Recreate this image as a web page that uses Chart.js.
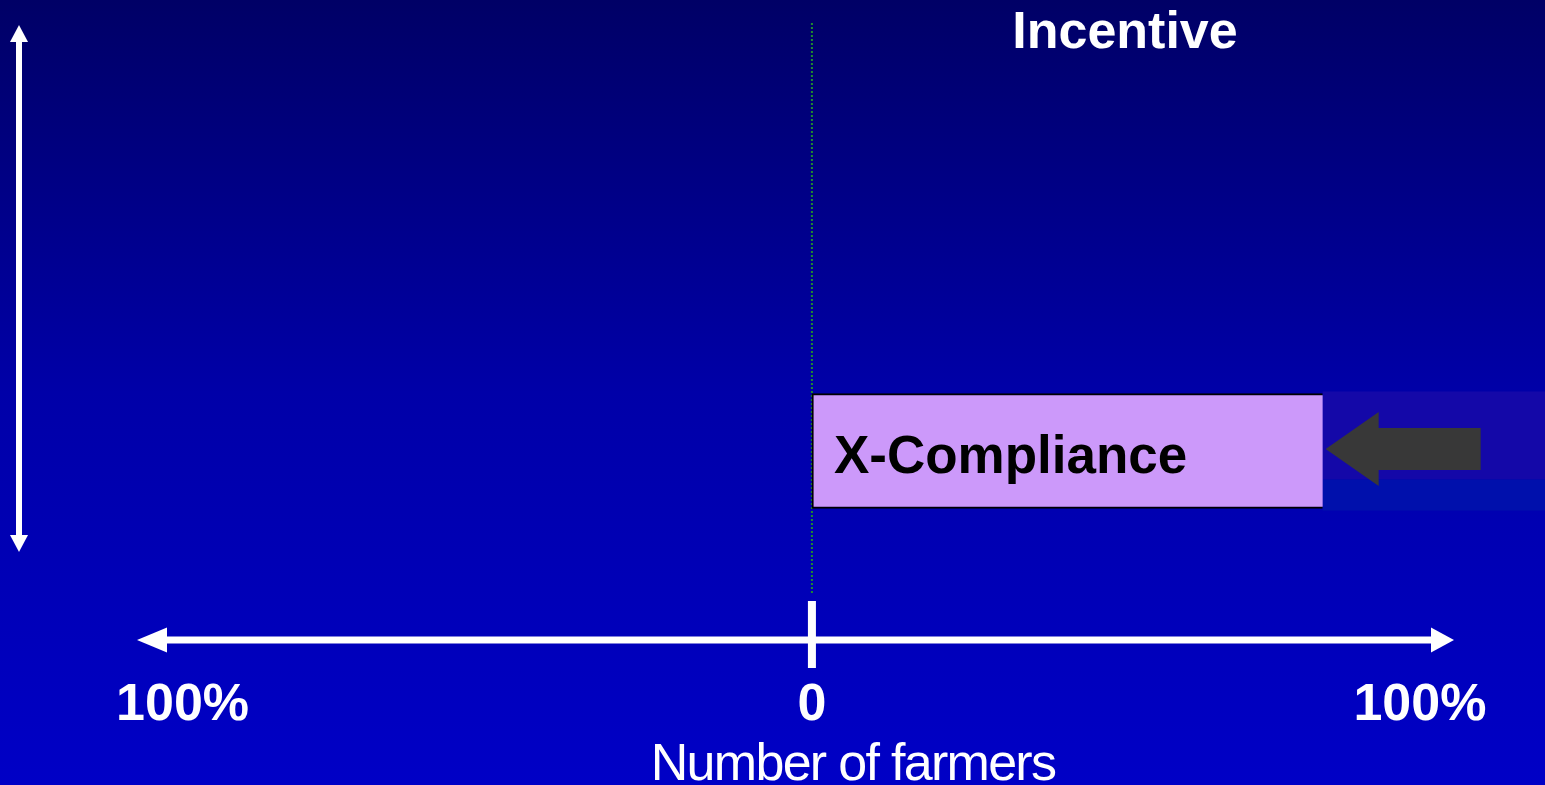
<!DOCTYPE html>
<html>
<head>
<meta charset="utf-8">
<script src="https://cdn.jsdelivr.net/npm/chart.js@4/dist/chart.umd.min.js"></script>
<style>
    html, body { margin: 0; padding: 0; background: #00008a; }
    #wrap { width: 1545px; height: 785px; }
</style>
</head>
<body>
<div id="wrap"><canvas id="myChart" width="1545" height="785"></canvas></div>
<script>
// Chart data
const categories = ['', 'X-Compliance'];
const barValues = [null, [0, 84]];          // share of farmers (%), floating bar from 0
const tickValues = [-103.5, 0, 100];
const tickLabels = ['100%', '0', '100%'];
const axisTitle = 'Number of farmers';
const chartTitle = 'Incentive';

const FONT = "'Liberation Sans', Arial, sans-serif";

// Background gradient, arrows, titles
const decorPlugin = {
    id: 'decor',
    beforeDraw(chart) {
        const ctx = chart.ctx;
        const g = ctx.createLinearGradient(0, 0, 0, chart.height);
        g.addColorStop(0, '#000066');
        g.addColorStop(0.5, '#0000a8');
        g.addColorStop(1, '#0000c6');
        ctx.save();
        ctx.fillStyle = g;
        ctx.fillRect(0, 0, chart.width, chart.height);
        ctx.restore();
    },
    beforeDatasetsDraw(chart) {
        const ctx = chart.ctx;
        const area = chart.chartArea;
        const x0 = chart.scales.x.getPixelForValue(0);

        // dotted zero line
        ctx.save();
        ctx.strokeStyle = '#1e8c2e';
        ctx.lineWidth = 2;
        ctx.setLineDash([2, 2]);
        ctx.beginPath();
        ctx.moveTo(x0, area.top - 2);
        ctx.lineTo(x0, area.bottom);
        ctx.stroke();
        ctx.restore();

        // lighter band behind the bar end
        const bar = chart.getDatasetMeta(0).data[1];
        if (bar) {
            const h = bar.height + 4;
            ctx.save();
            ctx.fillStyle = '#1408a8';
            ctx.fillRect(bar.x, bar.y - h / 2, chart.width - bar.x, h * 0.74);
            ctx.fillStyle = '#0010ac';
            ctx.fillRect(bar.x, bar.y - h / 2 + h * 0.74, chart.width - bar.x, h * 0.26);
            ctx.restore();
        }
    },
    afterDatasetsDraw(chart) {
        const ctx = chart.ctx;
        const area = chart.chartArea;
        const x0 = chart.scales.x.getPixelForValue(0);
        const bar = chart.getDatasetMeta(0).data[1];

        ctx.save();
        if (bar) {
            // bar label
            ctx.fillStyle = '#000000';
            ctx.font = 'bold 53px ' + FONT;
            ctx.textAlign = 'left';
            ctx.textBaseline = 'alphabetic';
            ctx.fillText(categories[1], bar.base + 22, bar.y + 22);

            // grey arrow pointing at bar end
            const tx = bar.x + 3, ty = bar.y - 2;
            ctx.fillStyle = '#383838';
            ctx.beginPath();
            ctx.moveTo(tx, ty);
            ctx.lineTo(tx + 53, ty - 37);
            ctx.lineTo(tx + 53, ty - 21);
            ctx.lineTo(tx + 155, ty - 21);
            ctx.lineTo(tx + 155, ty + 21);
            ctx.lineTo(tx + 53, ty + 21);
            ctx.lineTo(tx + 53, ty + 37);
            ctx.closePath();
            ctx.fill();
        }

        ctx.fillStyle = '#ffffff';
        // horizontal double arrow
        const ay = area.bottom + 47;
        ctx.fillRect(area.left + 28, ay - 3.5, area.right - area.left - 50, 7);
        ctx.beginPath();
        ctx.moveTo(area.left, ay);
        ctx.lineTo(area.left + 30, ay - 12.5);
        ctx.lineTo(area.left + 30, ay + 12.5);
        ctx.closePath();
        ctx.fill();
        ctx.beginPath();
        ctx.moveTo(area.right, ay);
        ctx.lineTo(area.right - 23, ay - 12.5);
        ctx.lineTo(area.right - 23, ay + 12.5);
        ctx.closePath();
        ctx.fill();
        // zero tick
        ctx.fillRect(x0 - 4, ay - 39, 8, 67);

        // vertical double arrow
        const vx = 19, vTop = area.top, vBot = area.top + 527;
        ctx.fillRect(vx - 3, vTop + 15, 6, vBot - vTop - 30);
        ctx.beginPath();
        ctx.moveTo(vx, vTop);
        ctx.lineTo(vx + 9, vTop + 17);
        ctx.lineTo(vx - 9, vTop + 17);
        ctx.closePath();
        ctx.fill();
        ctx.beginPath();
        ctx.moveTo(vx, vBot);
        ctx.lineTo(vx + 9, vBot - 17);
        ctx.lineTo(vx - 9, vBot - 17);
        ctx.closePath();
        ctx.fill();

        // title
        ctx.font = 'bold 52px ' + FONT;
        ctx.textAlign = 'center';
        ctx.textBaseline = 'alphabetic';
        ctx.fillText(chartTitle, 1125, 48);

        // axis title, tightly spaced
        ctx.font = '52px ' + FONT;
        ctx.letterSpacing = '-1.7px';
        ctx.fillText(axisTitle, 853, 780);
        ctx.restore();
    }
};

const ctx = document.getElementById('myChart').getContext('2d');
const myChart = new Chart(ctx, {
    type: 'bar',
    data: {
        labels: categories,
        datasets: [{
            label: 'Farmers',
            data: barValues,
            backgroundColor: '#cc99fa',
            borderColor: '#000000',
            borderWidth: { top: 2, bottom: 2, left: 2, right: 0 },
            borderSkipped: false,
            barThickness: 115
        }]
    },
    plugins: [decorPlugin],
    options: {
        responsive: false,
        animation: false,
        indexAxis: 'y',
        layout: {
            padding: { left: 137, right: 91, top: 25, bottom: 0 }
        },
        scales: {
            x: {
                type: 'linear',
                min: -111,
                max: 105.6,
                grid: { display: false, drawTicks: false },
                border: { display: false },
                afterBuildTicks: (s) => {
                    s.ticks = tickValues.map(v => ({ value: v }));
                },
                afterFit: (s) => {
                    s.height = 192;
                    s.paddingLeft = 0;
                    s.paddingRight = 0;
                },
                ticks: {
                    autoSkip: false,
                    maxRotation: 0,
                    padding: 81,
                    color: '#ffffff',
                    font: { family: FONT, size: 52, weight: 'bold' },
                    callback: (v, i) => tickLabels[i]
                }
            },
            y: {
                display: false,
                grid: { display: false }
            }
        },
        plugins: {
            legend: { display: false },
            tooltip: { enabled: false }
        }
    }
});
</script>
</body>
</html>
